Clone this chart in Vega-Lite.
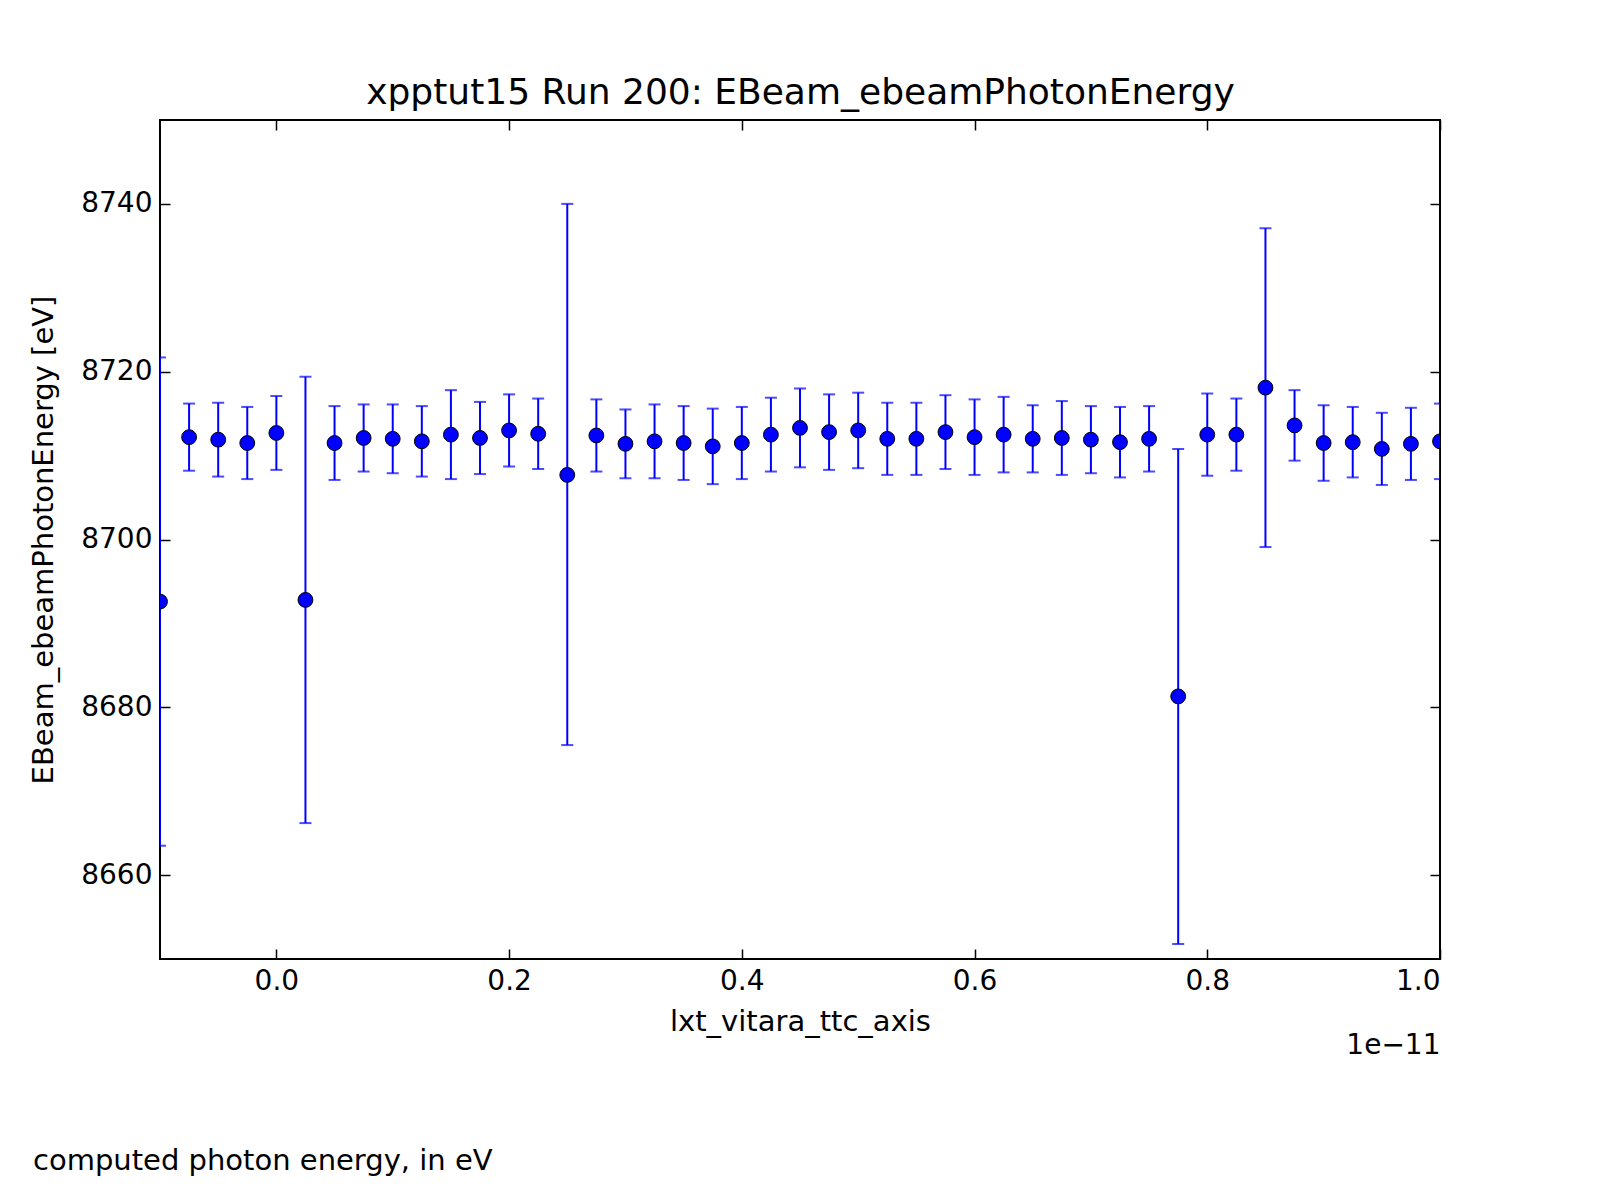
{
"$schema":"https://vega.github.io/schema/vega-lite/v6.json",
"width":1280,"height":839,
"autosize":{"type":"none"},
"padding":{"left":160,"top":120,"right":160,"bottom":241},
"background":"white",
"config":{"font":"DejaVu Sans","view":{"stroke":"black","strokeWidth":2},
"axis":{"labelFont":"DejaVu Sans","titleFont":"DejaVu Sans","labelFontSize":28,"titleFontSize":29,"titleFontWeight":"normal","labelColor":"black","titleColor":"black","grid":false,"domain":false,"tickColor":"black","tickWidth":1.5,"tickSize":-10,"labelPadding":18}},
"title":{"text":"computed photon energy, in eV","orient":"bottom","anchor":"start","frame":"group","dx":-127,"offset":88,"fontSize":29,"fontWeight":"normal","font":"DejaVu Sans","color":"black"},
"data":{"values":[
{"x":-0.1,"y":8692.6,"lo":8663.5,"hi":8721.7},
{"x":-0.075,"y":8712.2,"lo":8708.2,"hi":8716.2},
{"x":-0.05,"y":8711.9,"lo":8707.5,"hi":8716.3},
{"x":-0.025,"y":8711.5,"lo":8707.2,"hi":8715.8},
{"x":0.0,"y":8712.7,"lo":8708.3,"hi":8717.1},
{"x":0.025,"y":8692.8,"lo":8666.2,"hi":8719.4},
{"x":0.05,"y":8711.5,"lo":8707.1,"hi":8715.9},
{"x":0.075,"y":8712.1,"lo":8708.1,"hi":8716.1},
{"x":0.1,"y":8712.0,"lo":8707.9,"hi":8716.1},
{"x":0.125,"y":8711.7,"lo":8707.5,"hi":8715.9},
{"x":0.15,"y":8712.5,"lo":8707.2,"hi":8717.8},
{"x":0.175,"y":8712.1,"lo":8707.8,"hi":8716.4},
{"x":0.2,"y":8713.0,"lo":8708.7,"hi":8717.3},
{"x":0.225,"y":8712.6,"lo":8708.4,"hi":8716.8},
{"x":0.25,"y":8707.7,"lo":8675.5,"hi":8740.0},
{"x":0.275,"y":8712.4,"lo":8708.1,"hi":8716.7},
{"x":0.3,"y":8711.4,"lo":8707.3,"hi":8715.5},
{"x":0.325,"y":8711.7,"lo":8707.3,"hi":8716.1},
{"x":0.35,"y":8711.5,"lo":8707.1,"hi":8715.9},
{"x":0.375,"y":8711.1,"lo":8706.6,"hi":8715.6},
{"x":0.4,"y":8711.5,"lo":8707.2,"hi":8715.8},
{"x":0.425,"y":8712.5,"lo":8708.1,"hi":8716.9},
{"x":0.45,"y":8713.3,"lo":8708.6,"hi":8718.0},
{"x":0.475,"y":8712.8,"lo":8708.3,"hi":8717.3},
{"x":0.5,"y":8713.0,"lo":8708.5,"hi":8717.5},
{"x":0.525,"y":8712.0,"lo":8707.7,"hi":8716.3},
{"x":0.55,"y":8712.0,"lo":8707.7,"hi":8716.3},
{"x":0.575,"y":8712.8,"lo":8708.4,"hi":8717.2},
{"x":0.6,"y":8712.2,"lo":8707.7,"hi":8716.7},
{"x":0.625,"y":8712.5,"lo":8708.0,"hi":8717.0},
{"x":0.65,"y":8712.0,"lo":8708.0,"hi":8716.0},
{"x":0.675,"y":8712.1,"lo":8707.7,"hi":8716.5},
{"x":0.7,"y":8711.9,"lo":8707.9,"hi":8715.9},
{"x":0.725,"y":8711.6,"lo":8707.4,"hi":8715.8},
{"x":0.75,"y":8712.0,"lo":8708.1,"hi":8715.9},
{"x":0.775,"y":8681.3,"lo":8651.8,"hi":8710.8},
{"x":0.8,"y":8712.5,"lo":8707.6,"hi":8717.4},
{"x":0.825,"y":8712.5,"lo":8708.2,"hi":8716.8},
{"x":0.85,"y":8718.1,"lo":8699.1,"hi":8737.1},
{"x":0.875,"y":8713.6,"lo":8709.4,"hi":8717.8},
{"x":0.9,"y":8711.5,"lo":8707.0,"hi":8716.0},
{"x":0.925,"y":8711.6,"lo":8707.4,"hi":8715.8},
{"x":0.95,"y":8710.8,"lo":8706.5,"hi":8715.1},
{"x":0.975,"y":8711.4,"lo":8707.1,"hi":8715.7},
{"x":1.0,"y":8711.7,"lo":8707.2,"hi":8716.2}
]},
"encoding":{"x":{"field":"x","type":"quantitative","axis":null,"scale":{"domain":[-0.1,1.0],"nice":false,"zero":false}}},
"layer":[
{"mark":{"type":"rule","color":"blue","strokeWidth":2,"clip":true},
 "encoding":{
  "x":{"field":"x","type":"quantitative","axis":{"orient":"bottom","values":[0,0.2,0.4,0.6,0.8,1.0],"format":".1f","title":"lxt_vitara_ttc_axis","titlePadding":12}},
  "y":{"field":"lo","type":"quantitative","scale":{"domain":[8650,8750],"nice":false,"zero":false},"axis":{"orient":"left","values":[8660,8680,8700,8720,8740],"format":"d","title":"EBeam_ebeamPhotonEnergy [eV]","titlePadding":22}},
  "y2":{"field":"hi"}}},
{"mark":{"type":"tick","orient":"horizontal","color":"blue","size":12,"thickness":2,"clip":true},
 "encoding":{"x":{"field":"x","type":"quantitative","axis":{"orient":"top","values":[0,0.2,0.4,0.6,0.8,1.0],"labels":false,"title":"xpptut15 Run 200: EBeam_ebeamPhotonEnergy","titleFontSize":36,"titlePadding":8}},
  "y":{"field":"lo","type":"quantitative","axis":{"orient":"right","values":[8660,8680,8700,8720,8740],"labels":false,"title":null}}}},
{"mark":{"type":"tick","orient":"horizontal","color":"blue","size":12,"thickness":2,"clip":true},
 "encoding":{"x":{"field":"x","type":"quantitative","axis":{"orient":"bottom","labels":false,"ticks":false,"title":"1e−11","titleFontSize":28,"titleY":100,"titleX":1280,"titleAlign":"right","titleBaseline":"bottom"}},
  "y":{"field":"hi","type":"quantitative","axis":null}}},
{"mark":{"type":"point","shape":"circle","filled":true,"fill":"blue","stroke":"black","strokeWidth":1,"size":220,"opacity":1,"clip":true},
 "encoding":{"x":{"field":"x","type":"quantitative","axis":null},
  "y":{"field":"y","type":"quantitative","axis":null}}}
],
"resolve":{"axis":{"x":"independent","y":"independent"}}
}
